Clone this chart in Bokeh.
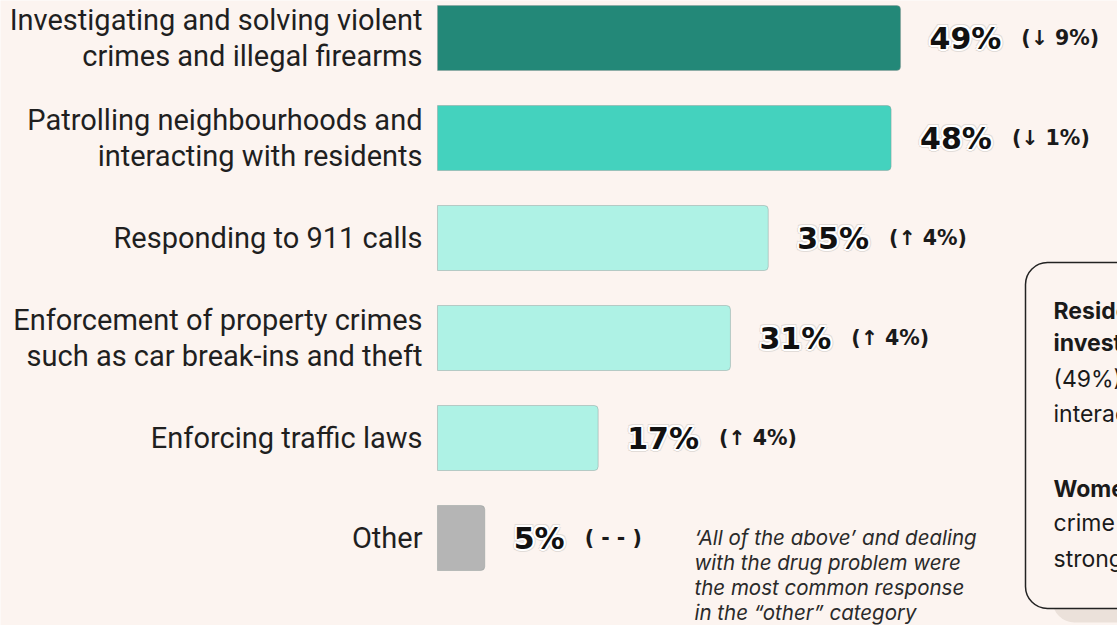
from bokeh.plotting import figure
from bokeh.models import Range1d, BoxAnnotation, ColumnDataSource
from bokeh.core.properties import value
from bokeh.embed import file_html
from bokeh.resources import INLINE

# ---------------- data ----------------
categories = [
    "Investigating and solving violent\ncrimes and illegal firearms",
    "Patrolling neighbourhoods and\ninteracting with residents",
    "Responding to 911 calls",
    "Enforcement of property crimes\nsuch as car break-ins and theft",
    "Enforcing traffic laws",
    "Other",
]
shares = [49, 48, 35, 31, 17, 5]
changes = ["(↓ 9%)", "(↓ 1%)", "(↑ 4%)", "(↑ 4%)", "(↑ 4%)", "( - - )"]
bar_colors = ["#238878", "#44d2be", "#aef2e5", "#aef2e5", "#aef2e5", "#b5b5b5"]

note_lines = [
    "‘All of the above’ and dealing",
    "with the drug problem  were",
    "the most common response",
    "in the “other” category",
]
box_lines = [
    ("Residents prioritize police", "bold"),
    ("investigating violent crime", "bold"),
    ("(49%) and patrolling and", "normal"),
    ("interacting with residents (48%).", "normal"),
    ("", "normal"),
    ("Women are more likely", "bold"),
    ("crime enforcement is a", "normal"),
    ("strong priority.", "normal"),
]

# ---------------- layout ----------------
W, H = 1117, 625
BG = "#fcf4f0"
X0 = 437.0      # pixel of 0 %
S = 9.45        # pixels per %
ROW = 100.0     # pixels per row
Y0 = 37.5       # pixel centre of first row

def px2x(px):
    return (px - X0) / S

def px2y(py):
    return (py - Y0) / ROW

p = figure(width=W, height=H, output_backend="svg", toolbar_location=None,
           x_range=Range1d(px2x(0), px2x(W)),
           y_range=Range1d(px2y(H), px2y(0)),
           min_border=0, background_fill_color=BG, border_fill_color=BG)
p.axis.visible = False
p.grid.visible = False
p.outline_line_color = None

idx = list(range(len(categories)))
src = ColumnDataSource(dict(y=idx, v=shares, c=bar_colors, cat=categories,
                            lab=[f"{s}%" for s in shares], chg=changes))

p.hbar(y="y", left=0, right="v", height=0.65, fill_color="c", source=src,
       line_color="#8f9a96", line_alpha=0.45, line_width=1,
       border_radius=(0, 4, 4, 0))

# category labels
p.text(x=0, y="y", text="cat", source=src, x_offset=-15,
       text_align="right", text_baseline="middle",
       text_font=value("Roboto"), text_font_size="29px",
       text_color="#1f1f1f", text_line_height=1.03)

# value labels with white halo (thin grey rim outside)
FS = 30
rim = [(-3, 0), (3, 0), (0, -3), (0, 3), (-2.2, -2.2), (2.2, -2.2), (-2.2, 2.2), (2.2, 2.2)]
halo = [(-2, 0), (2, 0), (0, -2), (0, 2), (-1.5, -1.5), (1.5, -1.5), (-1.5, 1.5), (1.5, 1.5)]
for offs, col in [(rim, "#e2dcd8"), (halo, "white")]:
    for dx, dy in offs:
        p.text(x="v", y="y", text="lab", source=src, x_offset=29 + dx, y_offset=dy,
               text_align="left", text_baseline="middle",
               text_font=value("DejaVu Sans"), text_font_style="bold",
               text_font_size=f"{FS}px", text_color=col)
p.text(x="v", y="y", text="lab", source=src, x_offset=29,
       text_align="left", text_baseline="middle",
       text_font=value("DejaVu Sans"), text_font_style="bold",
       text_font_size=f"{FS}px", text_color="#111111")

# change labels
for i, s in enumerate(shares):
    lab = f"{s}%"
    w = FS * (0.696 * (len(lab) - 1) + 1.002)
    p.text(x=[s], y=[i], text=[changes[i]], x_offset=29 + w + 20,
           text_align="left", text_baseline="middle",
           text_font=value("DejaVu Sans"), text_font_style="bold",
           text_font_size="20.5px", text_color="#1a1a1a")

# note under "Other"
p.text(x=[px2x(694)] * 4, y=[px2y(537 + 25 * k) for k in range(4)], text=note_lines,
       text_align="left", text_baseline="middle",
       text_font=value("Inter"), text_font_style="italic",
       text_font_size="20.5px", text_color="#2a2a2a")

# callout box with shadow
p.add_layout(BoxAnnotation(left=px2x(1052), right=px2x(1180), top=px2y(300), bottom=px2y(622),
                           fill_color="#ebe1da", fill_alpha=1, line_color=None,
                           border_radius=22, level="underlay"))
p.add_layout(BoxAnnotation(left=px2x(1025), right=px2x(1180), top=px2y(262), bottom=px2y(608),
                           fill_color=BG, fill_alpha=1, line_color="#222222", line_alpha=1,
                           line_width=1.5, border_radius=22, level="underlay"))

by = [310, 342, 378, 413, 450, 488, 522, 558]
for (t, st), yy in zip(box_lines, by):
    if not t:
        continue
    p.text(x=[px2x(1053)], y=[px2y(yy)], text=[t], text_align="left", text_baseline="middle",
           text_font=value("Inter"), text_font_style=st, text_font_size="23px",
           text_color="#1a1a1a")

open("out.html", "w").write(file_html(p, INLINE))
